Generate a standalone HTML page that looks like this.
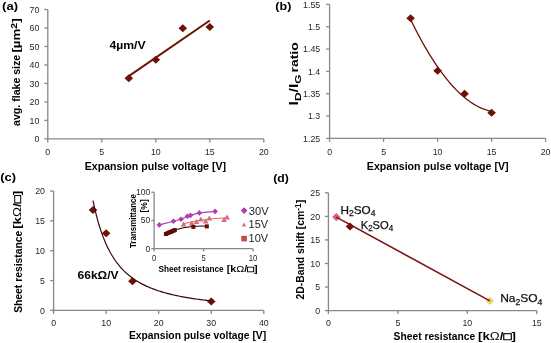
<!DOCTYPE html>
<html><head><meta charset="utf-8"><style>
html,body{margin:0;padding:0;background:#fff;}
svg{display:block;font-family:"Liberation Sans", sans-serif;filter:blur(0.3px);}
</style></head><body>
<svg width="551" height="343" viewBox="0 0 551 343">
<rect width="551" height="343" fill="#fff"/>
<line x1="47.80" y1="9.50" x2="47.80" y2="142.40" stroke="#878787" stroke-width="1.3"/>
<line x1="44.30" y1="138.90" x2="263.80" y2="138.90" stroke="#878787" stroke-width="1.3"/>
<line x1="44.30" y1="120.41" x2="47.80" y2="120.41" stroke="#878787" stroke-width="1.3"/>
<line x1="44.30" y1="101.93" x2="47.80" y2="101.93" stroke="#878787" stroke-width="1.3"/>
<line x1="44.30" y1="83.44" x2="47.80" y2="83.44" stroke="#878787" stroke-width="1.3"/>
<line x1="44.30" y1="64.96" x2="47.80" y2="64.96" stroke="#878787" stroke-width="1.3"/>
<line x1="44.30" y1="46.47" x2="47.80" y2="46.47" stroke="#878787" stroke-width="1.3"/>
<line x1="44.30" y1="27.99" x2="47.80" y2="27.99" stroke="#878787" stroke-width="1.3"/>
<line x1="44.30" y1="9.50" x2="47.80" y2="9.50" stroke="#878787" stroke-width="1.3"/>
<line x1="101.80" y1="138.90" x2="101.80" y2="142.40" stroke="#878787" stroke-width="1.3"/>
<line x1="155.80" y1="138.90" x2="155.80" y2="142.40" stroke="#878787" stroke-width="1.3"/>
<line x1="209.80" y1="138.90" x2="209.80" y2="142.40" stroke="#878787" stroke-width="1.3"/>
<line x1="263.80" y1="138.90" x2="263.80" y2="142.40" stroke="#878787" stroke-width="1.3"/>
<text id="a_y0" x="39.30" y="142.10" font-size="9.8" text-anchor="end" fill="#262626" textLength="4.9" lengthAdjust="spacingAndGlyphs">0</text>
<text id="a_y10" x="39.30" y="123.61" font-size="9.8" text-anchor="end" fill="#262626" textLength="9.81" lengthAdjust="spacingAndGlyphs">10</text>
<text id="a_y20" x="39.30" y="105.13" font-size="9.8" text-anchor="end" fill="#262626" textLength="9.81" lengthAdjust="spacingAndGlyphs">20</text>
<text id="a_y30" x="39.30" y="86.64" font-size="9.8" text-anchor="end" fill="#262626" textLength="9.81" lengthAdjust="spacingAndGlyphs">30</text>
<text id="a_y40" x="39.30" y="68.16" font-size="9.8" text-anchor="end" fill="#262626" textLength="9.81" lengthAdjust="spacingAndGlyphs">40</text>
<text id="a_y50" x="39.30" y="49.67" font-size="9.8" text-anchor="end" fill="#262626" textLength="9.81" lengthAdjust="spacingAndGlyphs">50</text>
<text id="a_y60" x="39.30" y="31.19" font-size="9.8" text-anchor="end" fill="#262626" textLength="9.81" lengthAdjust="spacingAndGlyphs">60</text>
<text id="a_y70" x="39.30" y="12.70" font-size="9.8" text-anchor="end" fill="#262626" textLength="9.81" lengthAdjust="spacingAndGlyphs">70</text>
<text id="a_x0" x="47.80" y="155.20" font-size="9.8" text-anchor="middle" fill="#262626" textLength="4.9" lengthAdjust="spacingAndGlyphs">0</text>
<text id="a_x5" x="101.80" y="155.20" font-size="9.8" text-anchor="middle" fill="#262626" textLength="4.9" lengthAdjust="spacingAndGlyphs">5</text>
<text id="a_x10" x="155.80" y="155.20" font-size="9.8" text-anchor="middle" fill="#262626" textLength="9.81" lengthAdjust="spacingAndGlyphs">10</text>
<text id="a_x15" x="209.80" y="155.20" font-size="9.8" text-anchor="middle" fill="#262626" textLength="9.81" lengthAdjust="spacingAndGlyphs">15</text>
<text id="a_x20" x="263.80" y="155.20" font-size="9.8" text-anchor="middle" fill="#262626" textLength="9.81" lengthAdjust="spacingAndGlyphs">20</text>
<line x1="128.80" y1="76.10" x2="209.80" y2="20.54" stroke="#6e1206" stroke-width="2.0"/>
<path d="M124.50 78.27L128.80 74.27L133.10 78.27L128.80 82.27Z" fill="#6e1206"/>
<path d="M151.50 59.78L155.80 55.78L160.10 59.78L155.80 63.78Z" fill="#6e1206"/>
<path d="M178.50 28.17L182.80 24.17L187.10 28.17L182.80 32.17Z" fill="#6e1206"/>
<path d="M205.50 27.06L209.80 23.06L214.10 27.06L209.80 31.06Z" fill="#6e1206"/>
<text id="a_lab" x="2.08" y="10.00" font-size="11.5" text-anchor="start" fill="#000" font-weight="bold" textLength="16.05" lengthAdjust="spacingAndGlyphs">(a)</text>
<text id="a_ann" x="109.44" y="49.10" font-size="11" text-anchor="start" fill="#000" font-weight="bold" textLength="36.21" lengthAdjust="spacingAndGlyphs">4µm/V</text>
<text id="a_yl" transform="translate(20.46,90.35) rotate(-90)" font-size="10.6" text-anchor="middle" fill="#000" font-weight="bold" textLength="71.12" lengthAdjust="spacingAndGlyphs">avg. flake size</text>
<text id="a_yl2" transform="translate(20.46,35.50) rotate(-90)" font-size="10.6" text-anchor="middle" fill="#000" font-weight="bold" textLength="34.11" lengthAdjust="spacingAndGlyphs">[µm<tspan font-size="0.8em" dy="-3.6">2</tspan><tspan dy="3.6">]</tspan></text>
<text id="a_xl" x="155.42" y="169.90" font-size="10.6" text-anchor="middle" fill="#000" font-weight="bold" textLength="141.38" lengthAdjust="spacingAndGlyphs">Expansion pulse voltage [V]</text>
<line x1="329.60" y1="4.40" x2="329.60" y2="141.90" stroke="#878787" stroke-width="1.3"/>
<line x1="326.10" y1="138.40" x2="545.60" y2="138.40" stroke="#878787" stroke-width="1.3"/>
<line x1="326.10" y1="116.07" x2="329.60" y2="116.07" stroke="#878787" stroke-width="1.3"/>
<line x1="326.10" y1="93.73" x2="329.60" y2="93.73" stroke="#878787" stroke-width="1.3"/>
<line x1="326.10" y1="71.40" x2="329.60" y2="71.40" stroke="#878787" stroke-width="1.3"/>
<line x1="326.10" y1="49.07" x2="329.60" y2="49.07" stroke="#878787" stroke-width="1.3"/>
<line x1="326.10" y1="26.73" x2="329.60" y2="26.73" stroke="#878787" stroke-width="1.3"/>
<line x1="326.10" y1="4.40" x2="329.60" y2="4.40" stroke="#878787" stroke-width="1.3"/>
<line x1="383.60" y1="138.40" x2="383.60" y2="141.90" stroke="#878787" stroke-width="1.3"/>
<line x1="437.60" y1="138.40" x2="437.60" y2="141.90" stroke="#878787" stroke-width="1.3"/>
<line x1="491.60" y1="138.40" x2="491.60" y2="141.90" stroke="#878787" stroke-width="1.3"/>
<line x1="545.60" y1="138.40" x2="545.60" y2="141.90" stroke="#878787" stroke-width="1.3"/>
<text id="b_y0" x="320.20" y="141.60" font-size="9.8" text-anchor="end" fill="#262626" textLength="17.16" lengthAdjust="spacingAndGlyphs">1.25</text>
<text id="b_y1" x="320.20" y="119.27" font-size="9.8" text-anchor="end" fill="#262626" textLength="12.26" lengthAdjust="spacingAndGlyphs">1.3</text>
<text id="b_y2" x="320.20" y="96.93" font-size="9.8" text-anchor="end" fill="#262626" textLength="17.16" lengthAdjust="spacingAndGlyphs">1.35</text>
<text id="b_y3" x="320.20" y="74.60" font-size="9.8" text-anchor="end" fill="#262626" textLength="12.26" lengthAdjust="spacingAndGlyphs">1.4</text>
<text id="b_y4" x="320.20" y="52.27" font-size="9.8" text-anchor="end" fill="#262626" textLength="17.16" lengthAdjust="spacingAndGlyphs">1.45</text>
<text id="b_y5" x="320.20" y="29.93" font-size="9.8" text-anchor="end" fill="#262626" textLength="12.26" lengthAdjust="spacingAndGlyphs">1.5</text>
<text id="b_y6" x="320.20" y="7.60" font-size="9.8" text-anchor="end" fill="#262626" textLength="17.16" lengthAdjust="spacingAndGlyphs">1.55</text>
<text id="b_x0" x="329.60" y="155.20" font-size="9.8" text-anchor="middle" fill="#262626" textLength="4.9" lengthAdjust="spacingAndGlyphs">0</text>
<text id="b_x5" x="383.60" y="155.20" font-size="9.8" text-anchor="middle" fill="#262626" textLength="4.9" lengthAdjust="spacingAndGlyphs">5</text>
<text id="b_x10" x="437.60" y="155.20" font-size="9.8" text-anchor="middle" fill="#262626" textLength="9.81" lengthAdjust="spacingAndGlyphs">10</text>
<text id="b_x15" x="491.60" y="155.20" font-size="9.8" text-anchor="middle" fill="#262626" textLength="9.81" lengthAdjust="spacingAndGlyphs">15</text>
<text id="b_x20" x="545.60" y="155.20" font-size="9.8" text-anchor="middle" fill="#262626" textLength="9.81" lengthAdjust="spacingAndGlyphs">20</text>
<polyline points="410.60,19.51 412.68,23.75 414.75,27.89 416.83,31.93 418.91,35.87 420.98,39.71 423.06,43.46 425.14,47.10 427.22,50.65 429.29,54.09 431.37,57.44 433.45,60.69 435.52,63.84 437.60,66.89 439.68,69.84 441.75,72.69 443.83,75.44 445.91,78.10 447.98,80.65 450.06,83.11 452.14,85.47 454.22,87.72 456.29,89.88 458.37,91.94 460.45,93.91 462.52,95.77 464.60,97.53 466.68,99.20 468.75,100.76 470.83,102.23 472.91,103.60 474.98,104.86 477.06,106.03 479.14,107.11 481.22,108.08 483.29,108.95 485.37,109.72 487.45,110.40 489.52,110.97 491.60,111.45" fill="none" stroke="#6e1206" stroke-width="1.3"/>
<path d="M406.30 18.25L410.60 14.25L414.90 18.25L410.60 22.25Z" fill="#6e1206"/>
<path d="M433.30 70.69L437.60 66.69L441.90 70.69L437.60 74.69Z" fill="#6e1206"/>
<path d="M460.30 93.73L464.60 89.73L468.90 93.73L464.60 97.73Z" fill="#6e1206"/>
<path d="M487.30 112.72L491.60 108.72L495.90 112.72L491.60 116.72Z" fill="#6e1206"/>
<text id="b_lab" x="275.38" y="10.00" font-size="11.5" text-anchor="start" fill="#000" font-weight="bold" textLength="15.94" lengthAdjust="spacingAndGlyphs">(b)</text>
<text id="b_yl" transform="translate(297.60,89.93) rotate(-90)" font-size="12.6" text-anchor="middle" fill="#000" font-weight="bold" textLength="31.09" lengthAdjust="spacingAndGlyphs">I<tspan font-size="0.76em" dy="3">D</tspan><tspan dy="-3">/I</tspan><tspan font-size="0.76em" dy="3">G</tspan></text>
<text id="b_yl2" transform="translate(297.60,57.35) rotate(-90)" font-size="11.8" text-anchor="middle" fill="#000" font-weight="bold" textLength="30.24" lengthAdjust="spacingAndGlyphs">ratio</text>
<text id="b_xl" x="437.73" y="170.20" font-size="10.6" text-anchor="middle" fill="#000" font-weight="bold" textLength="141.74" lengthAdjust="spacingAndGlyphs">Expansion pulse voltage [V]</text>
<line x1="53.60" y1="191.00" x2="53.60" y2="313.90" stroke="#878787" stroke-width="1.3"/>
<line x1="50.10" y1="310.40" x2="263.80" y2="310.40" stroke="#878787" stroke-width="1.3"/>
<line x1="50.10" y1="280.55" x2="53.60" y2="280.55" stroke="#878787" stroke-width="1.3"/>
<line x1="50.10" y1="250.70" x2="53.60" y2="250.70" stroke="#878787" stroke-width="1.3"/>
<line x1="50.10" y1="220.85" x2="53.60" y2="220.85" stroke="#878787" stroke-width="1.3"/>
<line x1="50.10" y1="191.00" x2="53.60" y2="191.00" stroke="#878787" stroke-width="1.3"/>
<line x1="106.15" y1="310.40" x2="106.15" y2="313.90" stroke="#878787" stroke-width="1.3"/>
<line x1="158.70" y1="310.40" x2="158.70" y2="313.90" stroke="#878787" stroke-width="1.3"/>
<line x1="211.25" y1="310.40" x2="211.25" y2="313.90" stroke="#878787" stroke-width="1.3"/>
<line x1="263.80" y1="310.40" x2="263.80" y2="313.90" stroke="#878787" stroke-width="1.3"/>
<text id="c_y0" x="45.00" y="313.60" font-size="9.8" text-anchor="end" fill="#262626" textLength="4.9" lengthAdjust="spacingAndGlyphs">0</text>
<text id="c_y5" x="45.00" y="283.75" font-size="9.8" text-anchor="end" fill="#262626" textLength="4.9" lengthAdjust="spacingAndGlyphs">5</text>
<text id="c_y10" x="45.00" y="253.90" font-size="9.8" text-anchor="end" fill="#262626" textLength="9.81" lengthAdjust="spacingAndGlyphs">10</text>
<text id="c_y15" x="45.00" y="224.05" font-size="9.8" text-anchor="end" fill="#262626" textLength="9.81" lengthAdjust="spacingAndGlyphs">15</text>
<text id="c_y20" x="45.00" y="194.20" font-size="9.8" text-anchor="end" fill="#262626" textLength="9.81" lengthAdjust="spacingAndGlyphs">20</text>
<text id="c_x0" x="53.60" y="326.20" font-size="9.8" text-anchor="middle" fill="#262626" textLength="4.9" lengthAdjust="spacingAndGlyphs">0</text>
<text id="c_x10" x="106.15" y="326.20" font-size="9.8" text-anchor="middle" fill="#262626" textLength="9.81" lengthAdjust="spacingAndGlyphs">10</text>
<text id="c_x20" x="158.70" y="326.20" font-size="9.8" text-anchor="middle" fill="#262626" textLength="9.81" lengthAdjust="spacingAndGlyphs">20</text>
<text id="c_x30" x="211.25" y="326.20" font-size="9.8" text-anchor="middle" fill="#262626" textLength="9.81" lengthAdjust="spacingAndGlyphs">30</text>
<text id="c_x40" x="263.80" y="326.20" font-size="9.8" text-anchor="middle" fill="#262626" textLength="9.81" lengthAdjust="spacingAndGlyphs">40</text>
<path d="M88.71 210.10L93.01 206.10L97.31 210.10L93.01 214.10Z" fill="#6e1206"/>
<path d="M101.85 233.21L106.15 229.21L110.45 233.21L106.15 237.21Z" fill="#6e1206"/>
<path d="M128.12 281.33L132.43 277.33L136.73 281.33L132.43 285.33Z" fill="#6e1206"/>
<path d="M206.95 301.62L211.25 297.62L215.55 301.62L211.25 305.62Z" fill="#6e1206"/>
<polyline points="93.01,200.57 94.51,207.56 96.01,213.86 97.50,219.59 99.00,224.80 100.50,229.55 101.99,233.91 103.49,237.90 104.99,241.58 106.48,244.98 107.98,248.12 109.48,251.03 110.97,253.73 112.47,256.24 113.97,258.59 115.46,260.77 116.96,262.82 118.46,264.74 119.95,266.54 121.45,268.23 122.95,269.82 124.44,271.32 125.94,272.73 127.44,274.07 128.93,275.33 130.43,276.52 131.93,277.65 133.42,278.73 134.92,279.75 136.42,280.72 137.91,281.64 139.41,282.52 140.91,283.35 142.40,284.15 143.90,284.91 145.40,285.64 146.89,286.34 148.39,287.00 149.89,287.64 151.38,288.25 152.88,288.84 154.38,289.40 155.87,289.93 157.37,290.45 158.87,290.95 160.36,291.43 161.86,291.89 163.36,292.33 164.85,292.76 166.35,293.17 167.85,293.56 169.34,293.94 170.84,294.31 172.34,294.67 173.83,295.01 175.33,295.34 176.83,295.66 178.32,295.97 179.82,296.27 181.32,296.56 182.81,296.85 184.31,297.12 185.81,297.38 187.30,297.64 188.80,297.89 190.30,298.13 191.79,298.36 193.29,298.59 194.79,298.80 196.28,299.02 197.78,299.23 199.28,299.43 200.77,299.62 202.27,299.81 203.77,300.00 205.26,300.18 206.76,300.35 208.26,300.52 209.75,300.69 211.25,300.85" fill="none" stroke="#3a0808" stroke-width="1.2"/>
<text id="c_lab" x="0.24" y="181.10" font-size="11.5" text-anchor="start" fill="#000" font-weight="bold" textLength="15.78" lengthAdjust="spacingAndGlyphs">(c)</text>
<text id="c_ann" x="77.55" y="279.10" font-size="11" text-anchor="start" fill="#000" font-weight="bold" textLength="41.0" lengthAdjust="spacingAndGlyphs">66kΩ/V</text>
<text id="c_yl" transform="translate(21.62,271.77) rotate(-90)" font-size="10.6" text-anchor="middle" fill="#000" font-weight="bold" textLength="82.16" lengthAdjust="spacingAndGlyphs">Sheet resistance</text>
<text id="c_yl2" transform="translate(21.46,209.79) rotate(-90)" font-size="10.6" text-anchor="middle" fill="#000" font-weight="bold" textLength="38.12" lengthAdjust="spacingAndGlyphs">[k<tspan font-weight="normal">Ω</tspan>/<tspan stroke="#000" stroke-width="0.45" font-weight="normal">□</tspan>]</text>
<text id="c_xl" x="197.52" y="339.40" font-size="10.6" text-anchor="middle" fill="#000" font-weight="bold" textLength="137.23" lengthAdjust="spacingAndGlyphs">Expansion pulse voltage [V]</text>
<line x1="154.10" y1="192.20" x2="154.10" y2="251.50" stroke="#878787" stroke-width="1.3"/>
<line x1="151.30" y1="248.70" x2="253.10" y2="248.70" stroke="#878787" stroke-width="1.3"/>
<line x1="151.30" y1="220.45" x2="154.10" y2="220.45" stroke="#878787" stroke-width="1.3"/>
<line x1="151.30" y1="192.20" x2="154.10" y2="192.20" stroke="#878787" stroke-width="1.3"/>
<line x1="203.60" y1="248.70" x2="203.60" y2="251.50" stroke="#878787" stroke-width="1.3"/>
<line x1="253.10" y1="248.70" x2="253.10" y2="251.50" stroke="#878787" stroke-width="1.3"/>
<text id="i_y0" x="150.30" y="251.70" font-size="9.0" text-anchor="end" fill="#262626" textLength="4.73" lengthAdjust="spacingAndGlyphs">0</text>
<text id="i_y50" x="150.30" y="223.45" font-size="9.0" text-anchor="end" fill="#262626" textLength="9.46" lengthAdjust="spacingAndGlyphs">50</text>
<text id="i_y100" x="150.30" y="195.20" font-size="9.0" text-anchor="end" fill="#262626" textLength="14.19" lengthAdjust="spacingAndGlyphs">100</text>
<text id="i_x0" x="154.10" y="261.40" font-size="9.0" text-anchor="middle" fill="#262626" textLength="4.27" lengthAdjust="spacingAndGlyphs">0</text>
<text id="i_x5" x="203.60" y="261.40" font-size="9.0" text-anchor="middle" fill="#262626" textLength="4.27" lengthAdjust="spacingAndGlyphs">5</text>
<text id="i_x10" x="253.10" y="261.40" font-size="9.0" text-anchor="middle" fill="#262626" textLength="8.56" lengthAdjust="spacingAndGlyphs">10</text>
<text id="i_yl1" transform="translate(136.04,221.09) rotate(-90)" font-size="8.3" text-anchor="middle" fill="#000" font-weight="bold" textLength="53.96" lengthAdjust="spacingAndGlyphs">Transmittance</text>
<text id="i_yl2" transform="translate(146.88,205.89) rotate(-90)" font-size="8.3" text-anchor="middle" fill="#000" font-weight="bold" textLength="13.26" lengthAdjust="spacingAndGlyphs">[%]</text>
<text id="i_xl" x="191.01" y="271.80" font-size="8.6" text-anchor="middle" fill="#000" font-weight="bold" textLength="65.14" lengthAdjust="spacingAndGlyphs">Sheet resistance</text>
<text id="i_xl2" x="242.12" y="271.80" font-size="8.6" text-anchor="middle" fill="#000" font-weight="bold" textLength="30.74" lengthAdjust="spacingAndGlyphs">[k<tspan font-weight="normal">Ω</tspan>/<tspan stroke="#000" stroke-width="0.45" font-weight="normal">□</tspan>]</text>
<polyline points="159.3,224.9 173.4,221.3 181.0,219.3 187.4,216.2 190.4,215.4 199.3,212.9 215.1,211.4" fill="none" stroke="#b03cb0" stroke-width="1.1"/>
<path d="M156.50 224.90L159.30 222.10L162.10 224.90L159.30 227.70Z" fill="#b03cb0"/>
<path d="M170.60 221.30L173.40 218.50L176.20 221.30L173.40 224.10Z" fill="#b03cb0"/>
<path d="M178.20 219.30L181.00 216.50L183.80 219.30L181.00 222.10Z" fill="#b03cb0"/>
<path d="M184.60 216.20L187.40 213.40L190.20 216.20L187.40 219.00Z" fill="#b03cb0"/>
<path d="M187.60 215.40L190.40 212.60L193.20 215.40L190.40 218.20Z" fill="#b03cb0"/>
<path d="M196.50 212.90L199.30 210.10L202.10 212.90L199.30 215.70Z" fill="#b03cb0"/>
<path d="M212.30 211.40L215.10 208.60L217.90 211.40L215.10 214.20Z" fill="#b03cb0"/>
<path d="M182,224.2 Q200,219 228,217.8" fill="none" stroke="#db6a7c" stroke-width="1.1"/>
<path d="M180.7 226.6L183.6 221.6L186.5 226.6Z" fill="#db6a7c"/>
<path d="M188.9 225.6L191.8 220.6L194.7 225.6Z" fill="#db6a7c"/>
<path d="M193.6 224.0L196.5 219.0L199.4 224.0Z" fill="#db6a7c"/>
<path d="M198.0 221.5L200.9 216.5L203.8 221.5Z" fill="#db6a7c"/>
<path d="M202.8 223.5L205.7 218.5L208.6 223.5Z" fill="#db6a7c"/>
<path d="M206.4 220.5L209.3 215.5L212.2 220.5Z" fill="#db6a7c"/>
<path d="M221.2 222.0L224.1 217.0L227.0 222.0Z" fill="#db6a7c"/>
<path d="M224.2 219.4L227.1 214.4L230.0 219.4Z" fill="#db6a7c"/>
<path d="M166,233.5 Q185,225 207,226.2" fill="none" stroke="#1a0505" stroke-width="1.1"/>
<rect x="163.9" y="232.0" width="4" height="4" fill="#650808"/>
<rect x="165.5" y="231.2" width="4" height="4" fill="#650808"/>
<rect x="167.0" y="230.6" width="4" height="4" fill="#650808"/>
<rect x="168.5" y="230.0" width="4" height="4" fill="#650808"/>
<rect x="170.0" y="229.3" width="4" height="4" fill="#650808"/>
<rect x="171.5" y="228.7" width="4" height="4" fill="#650808"/>
<rect x="172.8" y="228.1" width="4" height="4" fill="#650808"/>
<rect x="191.4" y="224.9" width="4" height="4" fill="#650808"/>
<rect x="204.8" y="224.4" width="4" height="4" fill="#650808"/>
<path d="M240.80 210.60L244.10 207.30L247.40 210.60L244.10 213.90Z" fill="#b03cb0"/>
<path d="M241.9 226.6L244.1 222.6L246.3 226.6Z" fill="#db6a7c"/>
<rect x="241.3" y="235.8" width="5.6" height="5.6" fill="#c84a4a"/>
<text id="l30" x="248.82" y="214.60" font-size="10" text-anchor="start" fill="#222" textLength="19.8" lengthAdjust="spacingAndGlyphs">30V</text>
<text id="l15" x="248.58" y="228.00" font-size="10" text-anchor="start" fill="#222" textLength="19.5" lengthAdjust="spacingAndGlyphs">15V</text>
<text id="l10" x="248.58" y="242.20" font-size="10" text-anchor="start" fill="#222" textLength="19.5" lengthAdjust="spacingAndGlyphs">10V</text>
<line x1="328.40" y1="192.80" x2="328.40" y2="314.10" stroke="#878787" stroke-width="1.3"/>
<line x1="324.90" y1="310.60" x2="536.80" y2="310.60" stroke="#878787" stroke-width="1.3"/>
<line x1="324.90" y1="287.04" x2="328.40" y2="287.04" stroke="#878787" stroke-width="1.3"/>
<line x1="324.90" y1="263.48" x2="328.40" y2="263.48" stroke="#878787" stroke-width="1.3"/>
<line x1="324.90" y1="239.92" x2="328.40" y2="239.92" stroke="#878787" stroke-width="1.3"/>
<line x1="324.90" y1="216.36" x2="328.40" y2="216.36" stroke="#878787" stroke-width="1.3"/>
<line x1="324.90" y1="192.80" x2="328.40" y2="192.80" stroke="#878787" stroke-width="1.3"/>
<line x1="397.87" y1="310.60" x2="397.87" y2="314.10" stroke="#878787" stroke-width="1.3"/>
<line x1="467.33" y1="310.60" x2="467.33" y2="314.10" stroke="#878787" stroke-width="1.3"/>
<line x1="536.80" y1="310.60" x2="536.80" y2="314.10" stroke="#878787" stroke-width="1.3"/>
<text id="d_y0" x="320.10" y="313.80" font-size="9.8" text-anchor="end" fill="#262626" textLength="4.9" lengthAdjust="spacingAndGlyphs">0</text>
<text id="d_y5" x="320.10" y="290.24" font-size="9.8" text-anchor="end" fill="#262626" textLength="4.9" lengthAdjust="spacingAndGlyphs">5</text>
<text id="d_y10" x="320.10" y="266.68" font-size="9.8" text-anchor="end" fill="#262626" textLength="9.81" lengthAdjust="spacingAndGlyphs">10</text>
<text id="d_y15" x="320.10" y="243.12" font-size="9.8" text-anchor="end" fill="#262626" textLength="9.81" lengthAdjust="spacingAndGlyphs">15</text>
<text id="d_y20" x="320.10" y="219.56" font-size="9.8" text-anchor="end" fill="#262626" textLength="9.81" lengthAdjust="spacingAndGlyphs">20</text>
<text id="d_y25" x="320.10" y="196.00" font-size="9.8" text-anchor="end" fill="#262626" textLength="9.81" lengthAdjust="spacingAndGlyphs">25</text>
<text id="d_x0" x="328.40" y="326.30" font-size="9.8" text-anchor="middle" fill="#262626" textLength="4.9" lengthAdjust="spacingAndGlyphs">0</text>
<text id="d_x5" x="397.87" y="326.30" font-size="9.8" text-anchor="middle" fill="#262626" textLength="4.9" lengthAdjust="spacingAndGlyphs">5</text>
<text id="d_x10" x="467.33" y="326.30" font-size="9.8" text-anchor="middle" fill="#262626" textLength="9.81" lengthAdjust="spacingAndGlyphs">10</text>
<text id="d_x15" x="536.80" y="326.30" font-size="9.8" text-anchor="middle" fill="#262626" textLength="9.81" lengthAdjust="spacingAndGlyphs">15</text>
<path d="M332.10 217.10L336.30 212.90L340.50 217.10L336.30 221.30Z" fill="#d9607f"/>
<path d="M345.70 226.40L350.00 222.40L354.30 226.40L350.00 230.40Z" fill="#6e1206"/>
<path d="M485.70 300.90L489.90 296.70L494.10 300.90L489.90 305.10Z" fill="#ebd36e"/>
<line x1="336.30" y1="217.10" x2="489.90" y2="300.90" stroke="#7d1212" stroke-width="1.6"/>
<text id="d_lab" x="273.30" y="181.70" font-size="11.5" text-anchor="start" fill="#000" font-weight="bold" textLength="15.64" lengthAdjust="spacingAndGlyphs">(d)</text>
<text id="d_yl" transform="translate(304.32,249.71) rotate(-90)" font-size="10.6" text-anchor="middle" fill="#000" font-weight="bold" textLength="99.68" lengthAdjust="spacingAndGlyphs">2D-Band shift [cm<tspan font-size="0.8em" dy="-3.6">-1</tspan><tspan dy="3.6">]</tspan></text>
<text id="d_xl" x="434.40" y="339.70" font-size="10.6" text-anchor="middle" fill="#000" font-weight="bold" textLength="81.6" lengthAdjust="spacingAndGlyphs">Sheet resistance</text>
<text id="d_xl2" x="496.92" y="339.70" font-size="10.6" text-anchor="middle" fill="#000" font-weight="bold" textLength="37.79" lengthAdjust="spacingAndGlyphs">[k<tspan font-weight="normal">Ω</tspan>/<tspan stroke="#000" stroke-width="0.45" font-weight="normal">□</tspan>]</text>
<text id="h2so4" x="340.43" y="213.80" font-size="11.5" text-anchor="start" fill="#111" textLength="34.94" lengthAdjust="spacingAndGlyphs" stroke="#111" stroke-width="0.25">H<tspan font-size="0.72em" dy="2.2">2</tspan><tspan dy="-2.2">SO</tspan><tspan font-size="0.72em" dy="2.2">4</tspan></text>
<text id="k2so4" x="360.68" y="228.70" font-size="11.5" text-anchor="start" fill="#111" textLength="32.58" lengthAdjust="spacingAndGlyphs" stroke="#111" stroke-width="0.25">K<tspan font-size="0.72em" dy="2.2">2</tspan><tspan dy="-2.2">SO</tspan><tspan font-size="0.72em" dy="2.2">4</tspan></text>
<text id="na2so4" x="500.17" y="302.40" font-size="11.5" text-anchor="start" fill="#111" textLength="42.2" lengthAdjust="spacingAndGlyphs" stroke="#111" stroke-width="0.25">Na<tspan font-size="0.72em" dy="2.2">2</tspan><tspan dy="-2.2">SO</tspan><tspan font-size="0.72em" dy="2.2">4</tspan></text>
</svg>
</body></html>
